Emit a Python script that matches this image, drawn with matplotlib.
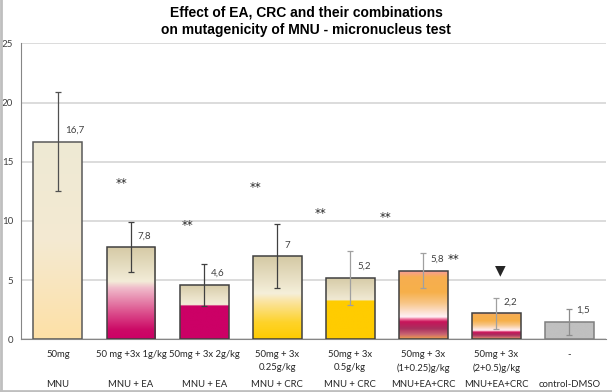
import numpy as np
import matplotlib.pyplot as plt
from matplotlib.colors import to_rgb
from matplotlib.lines import Line2D
from matplotlib.transforms import blended_transform_factory

# dane
dose_labels = ['50mg', '50 mg +3x 1g/kg', '50mg + 3x 2g/kg', '50mg + 3x\n0.25g/kg',
               '50mg + 3x\n0.5g/kg', '50mg + 3x\n(1+0.25)g/kg', '50mg + 3x\n(2+0.5)g/kg', '-']
group_labels = ['MNU', 'MNU + EA', 'MNU + EA', 'MNU + CRC', 'MNU + CRC',
                'MNU+EA+CRC', 'MNU+EA+CRC', 'control-DMSO']
means = [16.7, 7.8, 4.6, 7.0, 5.2, 5.8, 2.2, 1.5]
errors = [4.2, 2.1, 1.8, 2.7, 2.3, 1.5, 1.3, 1.1]
value_text = ['16,7', '7,8', '4,6', '7', '5,2', '5,8', '2,2', '1,5']

# znaczniki istotnosci
sig_text = ['**', '**', '**', '**', '**', '**', '\u25BC']
sig_x = [0.87, 1.77, 2.71, 3.60, 4.49, 5.41, 6.05]
sig_y = [13.2, 9.6, 12.8, 10.6, 10.3, 6.7, 5.8]

# gradienty (pozycja wzgledna 0=dol, 1=gora)
sunset = [(0.0, '#eea04e'), (0.07, '#c86272'), (0.15, '#a8305e'), (0.25, '#c8145a'),
          (0.29, '#f07aa2'), (0.32, '#fff2f6'), (0.38, '#fde4d8'), (0.52, '#f8c688'),
          (0.68, '#f6b04a'), (0.90, '#f7ae50'), (1.0, '#f79aa6')]
fills = [
    [(0.0, '#fee0a6'), (0.5, '#f4ead2'), (1.0, '#eee9d4')],
    [(0.0, '#cc0066'), (0.1, '#cc0a66'), (0.3, '#dd5590'), (0.55, '#f0bccb'),
     (0.62, '#f3ecd8'), (0.85, '#e0d7b8'), (1.0, '#d5c9a5')],
    [(0.0, '#cc0066'), (0.605, '#cc0066'), (0.62, '#f3ecd8'), (0.75, '#ebe3ca'), (1.0, '#d6cba8')],
    [(0.0, '#ffcc00'), (0.2, '#fed32a'), (0.45, '#fbe4a0'), (0.55, '#f5efda'), (1.0, '#d4c9a4')],
    [(0.0, '#ffcc00'), (0.615, '#ffcc00'), (0.63, '#f1ead4'), (1.0, '#d5caa6')],
    sunset,
    sunset,
    [(0.0, '#c0c0c0'), (1.0, '#c0c0c0')],
]
edge_colors = ['#595959', '#404040', '#404040', '#404040', '#404040', '#404040', '#404040', '#7f7f7f']
err_colors = ['#505050', '#404040', '#404040', '#404040', '#a0a0a0', '#a0a0a0', '#a0a0a0', '#8c8c8c']


def gradient(stops, n=256):
    pos = np.array([s[0] for s in stops])
    cols = np.array([to_rgb(s[1]) for s in stops])
    t = np.linspace(1, 0, n)
    img = np.stack([np.interp(t, pos, cols[:, k]) for k in range(3)], axis=-1)
    return img[:, None, :]


fig = plt.figure(figsize=(6.12, 3.92), dpi=100)
ax = fig.add_axes([0.035, 0.1344, 0.955, 0.7551])

x = np.arange(len(means))
width = 0.67
bars = ax.bar(x, means, width, color='none', edgecolor=edge_colors, linewidth=1.1, zorder=3)
for b, st in zip(bars, fills):
    im = ax.imshow(gradient(st), extent=[b.get_x(), b.get_x() + b.get_width(), 0, b.get_height()],
                   aspect='auto', zorder=2)
    im.set_clip_path(b)

for i in range(len(means)):
    ax.errorbar(x[i], means[i], yerr=errors[i], fmt='none', ecolor=err_colors[i],
                elinewidth=0.9, capsize=2.5, capthick=0.9, zorder=4)
    ax.text(x[i] + 0.095, means[i] + 0.95, value_text[i], ha='left', va='center',
            fontsize=7, family='Lato', color='#404040', zorder=5)

for t, sx, sy in zip(sig_text, sig_x, sig_y):
    ax.text(sx, sy, t, ha='center', va='center', fontsize=8.5 if t == '**' else 10,
            family='DejaVu Sans', color='#262626', zorder=5)

ax.set_xlim(-0.5, len(means) - 0.5)
ax.set_ylim(0, 25)
ax.set_yticks([0, 5, 10, 15, 20, 25])
ax.tick_params(axis='y', length=0, pad=6, labelsize=7, labelcolor='#404040')
for lab in ax.get_yticklabels():
    lab.set_family('Lato')
ax.set_xticks(x)
ax.set_xticklabels(dose_labels, fontsize=6.8, family='Lato', color='#262626', linespacing=1.5)
ax.tick_params(axis='x', length=0, pad=8)
trans = blended_transform_factory(ax.transData, ax.transAxes)
for i, g in enumerate(group_labels):
    ax.text(x[i], -0.152, g, transform=trans, ha='center', va='center',
            fontsize=6.8, family='Lato', color='#262626')

ax.grid(axis='y', color='#d9d9d9', linewidth=1.3, zorder=0)
ax.set_axisbelow(True)
for s in ['top', 'right']:
    ax.spines[s].set_visible(False)
ax.spines['left'].set_color('#868686')
ax.spines['bottom'].set_color('#868686')
ax.spines['left'].set_linewidth(0.8)
ax.spines['bottom'].set_linewidth(0.8)

fig.text(0.5, 0.985, 'Effect of EA, CRC and their combinations\non mutagenicity of MNU - micronucleus test',
         ha='center', va='top', fontsize=10, fontweight='bold', family='Liberation Sans',
         linespacing=1.3)

# ramka
fig.add_artist(Line2D([0.002, 0.002], [0, 1], transform=fig.transFigure, color='#bfbfbf', lw=2))
fig.add_artist(Line2D([0, 1], [0.003, 0.003], transform=fig.transFigure, color='#bfbfbf', lw=2))

fig.savefig('out.png', dpi=100)
